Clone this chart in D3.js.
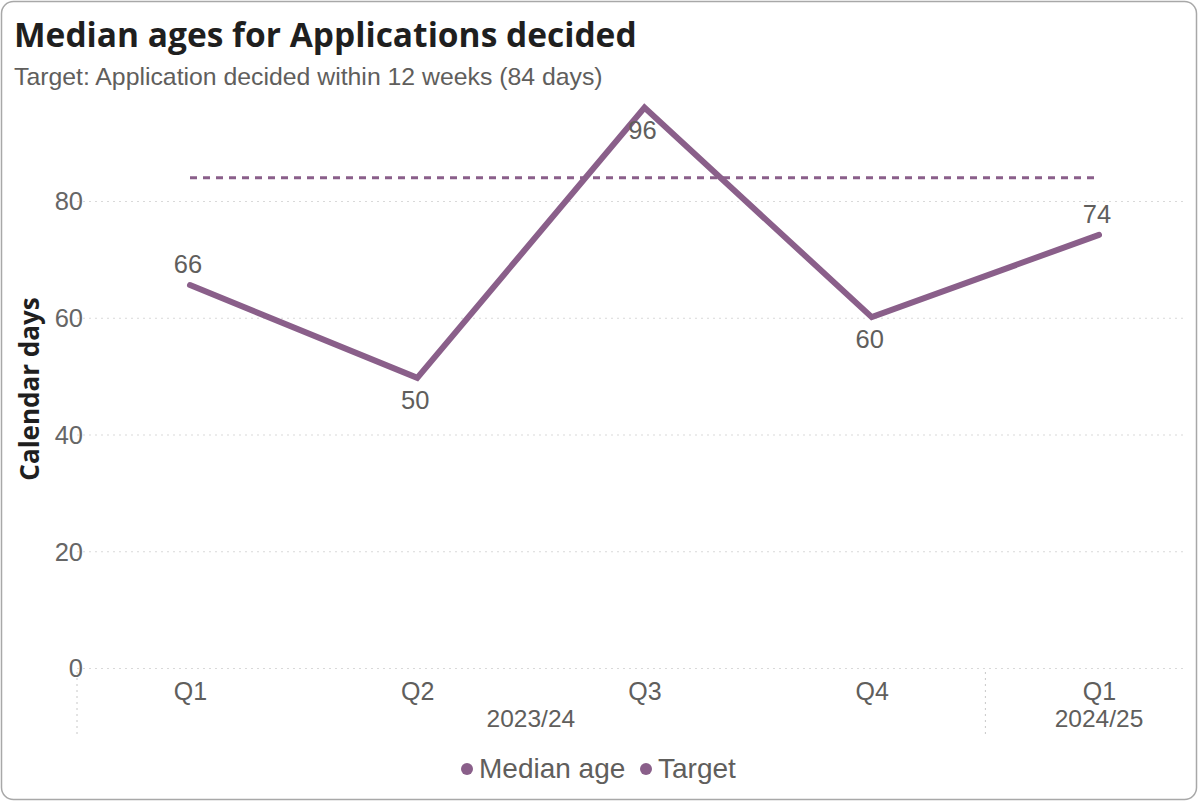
<!DOCTYPE html>
<html>
<head>
<meta charset="utf-8">
<script src="https://cdn.jsdelivr.net/npm/d3@7"></script>
<style>
  html, body { margin: 0; padding: 0; background: #fff; }
  svg { display: block; }
</style>
</head>
<body>
<svg id="chart" width="1198" height="801"></svg>
<script>
const quarters = ["Q1", "Q2", "Q3", "Q4", "Q1"];
const years = ["2023/24", "2023/24", "2023/24", "2023/24", "2024/25"];
const medianAge = [65.6, 49.7, 96, 60.1, 74.2];
const medianLabels = ["66", "50", "96", "60", "74"];
const labelAbove = [true, false, false, false, true];
const target = [84, 84, 84, 84, 84];
const yTicks = [0, 20, 40, 60, 80];
const yearGroups = [{name: "2023/24", from: 0, to: 3}, {name: "2024/25", from: 4, to: 4}];

const W = 1198, H = 801;
const svg = d3.select("#chart");
const col = "#8a5f8a";
const fontSans = "'Liberation Sans', Arial, sans-serif";

svg.append("rect").attr("x", 1.5).attr("y", 1.5).attr("width", W - 3).attr("height", H - 3)
  .attr("rx", 12).attr("fill", "#fff").attr("stroke", "#a8a8a8").attr("stroke-width", 1.5);

svg.append("text").attr("x", 14).attr("y", 47)
  .style("font-family", "'Open Sans', sans-serif").style("font-weight", 700).style("font-size", "33.5px")
  .attr("fill", "#1f1f1f").text("Median ages for Applications decided");
svg.append("text").attr("x", 14).attr("y", 85)
  .style("font-family", fontSans).style("font-size", "24.8px")
  .attr("fill", "#605e5c").text("Target: Application decided within 12 weeks (84 days)");

const idx = d3.range(quarters.length);
const x = d3.scalePoint().domain(idx).range([190, 1099]);
const y = d3.scaleLinear().domain([0, 80]).range([668, 201]);
const gridX0 = 77, gridX1 = 1183;

// gridlines
const yAxis = d3.axisLeft(y).tickValues(yTicks).tickSize(0).tickPadding(0);
const gy = svg.append("g").attr("transform", `translate(${gridX0},0)`).call(yAxis);
gy.select(".domain").remove();
gy.selectAll(".tick text").attr("x", 6).attr("dy", "0.35em")
  .style("font-family", fontSans).style("font-size", "25.5px").attr("fill", "#666");
gy.selectAll(".tick line").attr("x2", gridX1 - gridX0)
  .attr("stroke", "#d9d9d9").attr("stroke-dasharray", "2,4").attr("stroke-width", 1);

svg.append("text")
  .attr("transform", `translate(39,389) rotate(-90)`)
  .attr("text-anchor", "middle")
  .style("font-family", "'Open Sans', sans-serif").style("font-weight", 700).style("font-size", "26px")
  .attr("fill", "#1f1f1f").text("Calendar days");

// x axis labels
const xAxis = d3.axisBottom(x).tickSize(0).tickPadding(0).tickFormat(i => quarters[i]);
const gx = svg.append("g").attr("transform", `translate(0,${y(0)})`).call(xAxis);
gx.select(".domain").remove();
gx.selectAll(".tick text").attr("y", 32).attr("dy", 0)
  .style("font-family", fontSans).style("font-size", "25px").attr("fill", "#605e5c");

// year group labels and separators
const step = x.step();
yearGroups.forEach(g => {
  const cx = (x(g.from) + x(g.to)) / 2;
  svg.append("text").attr("x", cx).attr("y", 727).attr("text-anchor", "middle")
    .style("font-family", fontSans).style("font-size", "24.5px").attr("fill", "#605e5c").text(g.name);
});
[gridX0, x(4) - step / 2].forEach(sx => {
  svg.append("line").attr("x1", sx).attr("x2", sx)
    .attr("y1", 672).attr("y2", 736).attr("stroke", "#c8c8c8").attr("stroke-dasharray", "2,4");
});

// target line
svg.append("path").datum(target)
  .attr("d", d3.line().x((d, i) => x(i)).y(d => y(d)))
  .attr("fill", "none").attr("stroke", col).attr("stroke-width", 3).attr("stroke-dasharray", "7,6");

// median line
svg.append("path").datum(medianAge)
  .attr("d", d3.line().x((d, i) => x(i)).y(d => y(d)))
  .attr("fill", "none").attr("stroke", col).attr("stroke-width", 6).attr("stroke-linecap", "round");

// labels
svg.selectAll(".dl").data(medianAge).enter().append("text")
  .attr("x", (d, i) => x(i) - 2)
  .attr("y", (d, i) => labelAbove[i] ? y(d) - 12 : y(d) + 31)
  .attr("text-anchor", "middle")
  .style("font-family", fontSans).style("font-size", "25.5px").attr("fill", "#605e5c")
  .text((d, i) => medianLabels[i]);

// legend
const legend = [{name: "Median age", cx: 467}, {name: "Target", cx: 646}];
legend.forEach(l => {
  svg.append("circle").attr("cx", l.cx).attr("cy", 769).attr("r", 6).attr("fill", col);
  svg.append("text").attr("x", l.cx + 12).attr("y", 778)
    .style("font-family", fontSans).style("font-size", "28px").attr("fill", "#605e5c").text(l.name);
});
</script>
</body>
</html>
